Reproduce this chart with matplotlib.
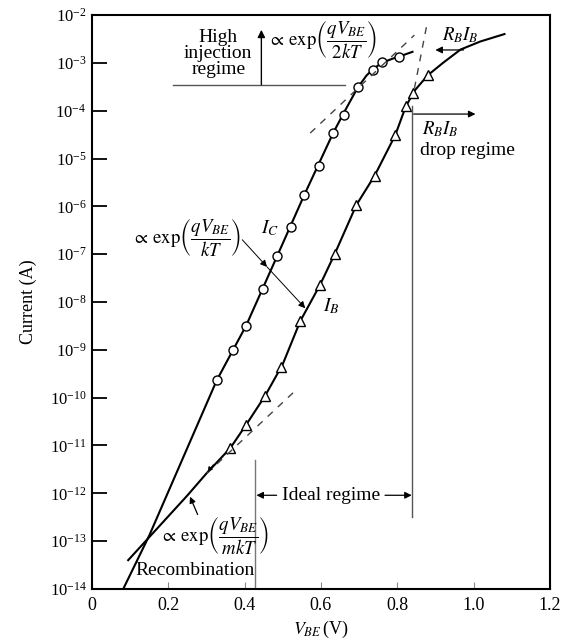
import matplotlib
matplotlib.use('Agg')
import matplotlib.pyplot as plt

plt.rcParams['font.family'] = ['Liberation Serif', 'DejaVu Serif']
plt.rcParams['mathtext.fontset'] = 'stix'

# measured points (V_BE in volts, current in A)
ic_v = [0.327, 0.369, 0.404, 0.448, 0.485, 0.521, 0.556, 0.595, 0.632, 0.660, 0.696, 0.737, 0.760, 0.804]
ic_i = [2.3e-10, 1.0e-9, 3.2e-9, 1.9e-8, 9.0e-8, 3.7e-7, 1.7e-6, 6.9e-6, 3.4e-5, 8.1e-5, 3.1e-4, 7.1e-4, 1.05e-3, 1.3e-3]

ib_v = [0.362, 0.404, 0.454, 0.496, 0.546, 0.598, 0.636, 0.693, 0.741, 0.795, 0.822, 0.841, 0.881]
ib_i = [8.7e-12, 2.7e-11, 1.1e-10, 4.4e-10, 4.0e-9, 2.3e-8, 1.0e-7, 1.07e-6, 4.4e-6, 3.1e-5, 1.26e-4, 2.3e-4, 5.5e-4]

# curves drawn through the data
ic_line_v = [0.082, 0.150, 0.327, 0.404, 0.485, 0.556, 0.632, 0.660, 0.696, 0.720, 0.740, 0.760, 0.785, 0.810, 0.840]
ic_line_i = [1e-14, 1.3e-13, 2.3e-10, 3.2e-9, 9e-8, 1.7e-6, 3.4e-5, 9e-5, 3.0e-4, 5.5e-4, 7.8e-4, 1.0e-3, 1.2e-3, 1.4e-3, 1.7e-3]

ib_line_v = [0.095, 0.250, 0.300, 0.362, 0.404, 0.454, 0.500, 0.546, 0.598, 0.636, 0.693, 0.741, 0.795, 0.822, 0.845, 0.880, 0.920, 0.966, 1.018, 1.081]
ib_line_i = [4e-14, 9e-13, 2.6e-12, 8.7e-12, 2.7e-11, 1.1e-10, 5e-10, 4e-9, 2.3e-8, 1.0e-7, 1.07e-6, 4.4e-6, 3.1e-5, 1.2e-4, 2.6e-4, 5.5e-4, 1.0e-3, 1.9e-3, 2.8e-3, 4.0e-3]

# dashed asymptotes
hi_dash_v = [0.572, 0.845]
hi_dash_i = [3.4e-5, 3.8e-3]
rb_dash_v = [0.845, 0.879]
rb_dash_i = [2.9e-4, 7.1e-3]
rec_dash_v = [0.301, 0.533]
rec_dash_i = [2.6e-12, 1.4e-10]

xticks = [0, 0.2, 0.4, 0.6, 0.8, 1.0, 1.2]
xticklabels = ['0', '0.2', '0.4', '0.6', '0.8', '1.0', '1.2']

fig = plt.figure(figsize=(5.71, 6.42), dpi=100)
ax = fig.add_axes([0.161, 0.0826, 0.802, 0.894])

ax.plot(ic_line_v, ic_line_i, color='black', lw=1.5)
ax.plot(ib_line_v, ib_line_i, color='black', lw=1.5)
ax.plot(ic_v, ic_i, 'o', ms=6.5, mfc='white', mec='black', mew=1.0)
ax.plot(ib_v, ib_i, '^', ms=6.5, mfc='white', mec='black', mew=1.0)

dash = dict(color='#444444', lw=1.0, dashes=(5, 5))
ax.plot(hi_dash_v, hi_dash_i, **dash)
ax.plot(rb_dash_v, rb_dash_i, **dash)
ax.plot(rec_dash_v, rec_dash_i, **dash)

ax.set_yscale('log')
ax.set_xlim(0, 1.2)
ax.set_ylim(1e-14, 1e-2)
ax.set_xticks(xticks)
ax.set_xticklabels(xticklabels)
ax.set_yticks([10.0 ** k for k in range(-14, -1)])
ax.minorticks_off()
ax.tick_params(axis='y', direction='in', length=11, width=1.3, labelsize=12, pad=4)
ax.tick_params(axis='x', direction='in', length=5, width=0.8, color='#888888', labelsize=13, pad=6)
for s in ax.spines.values():
    s.set_linewidth(1.5)

ax.set_ylabel('Current (A)', fontsize=13, labelpad=9)
ax.set_xlabel(r'$V_{BE}\,$(V)', fontsize=13, labelpad=3)


def arr(lw=0.9, ms=10):
    return dict(arrowstyle='-|>', color='black', lw=lw, mutation_scale=ms, shrinkA=0, shrinkB=0)


thin = dict(color='#555555', lw=1.0)
fs = 14
mfs = 13.5

# high injection regime
ax.plot([0.213, 0.664], [3.5e-4, 3.5e-4], **thin)
ax.annotate('', xy=(0.444, 4.9e-3), xytext=(0.444, 3.5e-4), arrowprops=arr(1.0, 11))
ax.text(0.331, 1.6e-3, 'High\ninjection\nregime', ha='center', va='center', fontsize=fs, linespacing=0.92)
ax.text(0.462, 3.0e-3, r'$\propto\,\exp\!\left(\dfrac{qV_{BE}}{2kT}\right)$', ha='left', va='center', fontsize=mfs)

# R_B I_B at top
ax.annotate('', xy=(0.900, 1.86e-3), xytext=(0.974, 1.86e-3), arrowprops=arr())
ax.text(0.966, 3.8e-3, r'$R_BI_B$', ha='center', va='center', fontsize=mfs)

# R_B I_B drop regime
ax.plot([0.840, 0.840], [1.26e-4, 3.2e-13], **thin)
ax.annotate('', xy=(1.005, 8.5e-5), xytext=(0.843, 8.5e-5), arrowprops=arr())
ax.text(0.866, 4.1e-5, r'$R_BI_B$', ha='left', va='center', fontsize=mfs)
ax.text(0.860, 1.45e-5, 'drop regime', ha='left', va='center', fontsize=fs)

# ideal regime
ax.plot([0.428, 0.428], [5e-12, 1e-14], color='#777777', lw=1.0)
ax.annotate('', xy=(0.431, 9.1e-13), xytext=(0.484, 9.1e-13), arrowprops=arr())
ax.annotate('', xy=(0.838, 9.1e-13), xytext=(0.768, 9.1e-13), arrowprops=arr())
ax.text(0.627, 9.1e-13, 'Ideal regime', ha='center', va='center', fontsize=fs)

# kT slope label with pointers to both curves
ax.text(0.105, 2.2e-7, r'$\propto\,\exp\!\left(\dfrac{qV_{BE}}{kT}\right)$', ha='left', va='center', fontsize=mfs)
ax.annotate('', xy=(0.459, 5.4e-8), xytext=(0.394, 2.0e-7), arrowprops=arr(0.7, 10))
ax.annotate('', xy=(0.559, 7.4e-9), xytext=(0.459, 5.4e-8), arrowprops=arr(0.7, 10))
ax.text(0.467, 3.5e-7, r'$I_C$', ha='center', va='center', fontsize=14)
ax.text(0.627, 8.3e-9, r'$I_B$', ha='center', va='center', fontsize=14)

# recombination
ax.text(0.178, 1.25e-13, r'$\propto\,\exp\!\left(\dfrac{qV_{BE}}{mkT}\right)$', ha='left', va='center', fontsize=mfs)
ax.annotate('', xy=(0.257, 8.5e-13), xytext=(0.277, 3.6e-13), arrowprops=arr(0.9, 9))
ax.annotate('', xy=(0.303, 2.8e-12), xytext=(0.318, 4.0e-12), arrowprops=arr(0.5, 8))
ax.text(0.113, 2.4e-14, 'Recombination', ha='left', va='center', fontsize=fs)

fig.savefig('out.png', dpi=100)
